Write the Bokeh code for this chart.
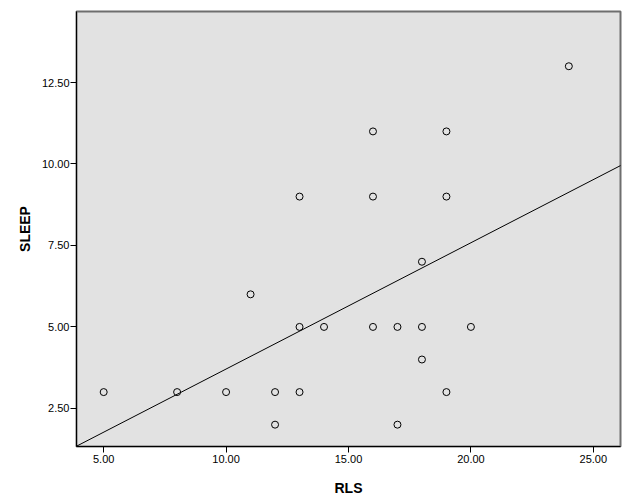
import numpy as np
from bokeh.plotting import figure
from bokeh.models import Range1d, FixedTicker, NumeralTickFormatter, Slope
from bokeh.embed import file_html
from bokeh.resources import INLINE

rls = [5, 8, 10, 11, 12, 12, 13, 13, 13, 14, 16, 16, 16, 17, 17, 18, 18, 18, 19, 19, 19, 20, 24]
sleep = [3, 3, 3, 6, 3, 2, 9, 5, 3, 5, 11, 9, 5, 5, 2, 7, 5, 4, 11, 9, 3, 5, 13]
x_ticks = [5, 10, 15, 20, 25]
y_ticks = [2.5, 5.0, 7.5, 10.0, 12.5]

p = figure(width=628, height=500, output_backend="svg", toolbar_location=None,
           x_range=Range1d(3.89, 26.11), y_range=Range1d(1.33, 14.68),
           min_border_left=76, min_border_right=8, min_border_top=11, min_border_bottom=54)

p.background_fill_color = "#e2e2e2"
p.border_fill_color = "white"
p.outline_line_color = "#6e6e6e"
p.outline_line_width = 2
p.xgrid.visible = False
p.ygrid.visible = False

for ax in (p.xaxis[0], p.yaxis[0]):
    ax.axis_line_color = "black"
    ax.axis_line_width = 1
    ax.major_tick_line_color = "black"
    ax.major_tick_in = 0
    ax.major_tick_out = 6
    ax.minor_tick_line_color = None
    ax.major_label_text_font = "Liberation Sans"
    ax.major_label_text_font_size = "11px"
    ax.major_label_text_color = "black"
    ax.axis_label_text_font = "Liberation Sans"
    ax.axis_label_text_font_size = "14px"
    ax.axis_label_text_font_style = "bold"
    ax.axis_label_text_color = "black"
    ax.formatter = NumeralTickFormatter(format="0.00")

p.xaxis.ticker = FixedTicker(ticks=x_ticks)
p.yaxis.ticker = FixedTicker(ticks=y_ticks)
p.xaxis.axis_label = "RLS"
p.yaxis.axis_label = "SLEEP"
p.xaxis.major_label_standoff = 2
p.yaxis.major_label_standoff = 1
p.xaxis.axis_label_standoff = 14
p.yaxis.axis_label_standoff = 6

slope, intercept = np.polyfit(rls, sleep, 1)
p.add_layout(Slope(gradient=slope, y_intercept=intercept, line_color="black", line_width=1))

p.scatter(rls, sleep, marker="circle", size=7, fill_color=None, line_color="black", line_width=1)

open("out.html", "w").write(file_html(p, INLINE))
